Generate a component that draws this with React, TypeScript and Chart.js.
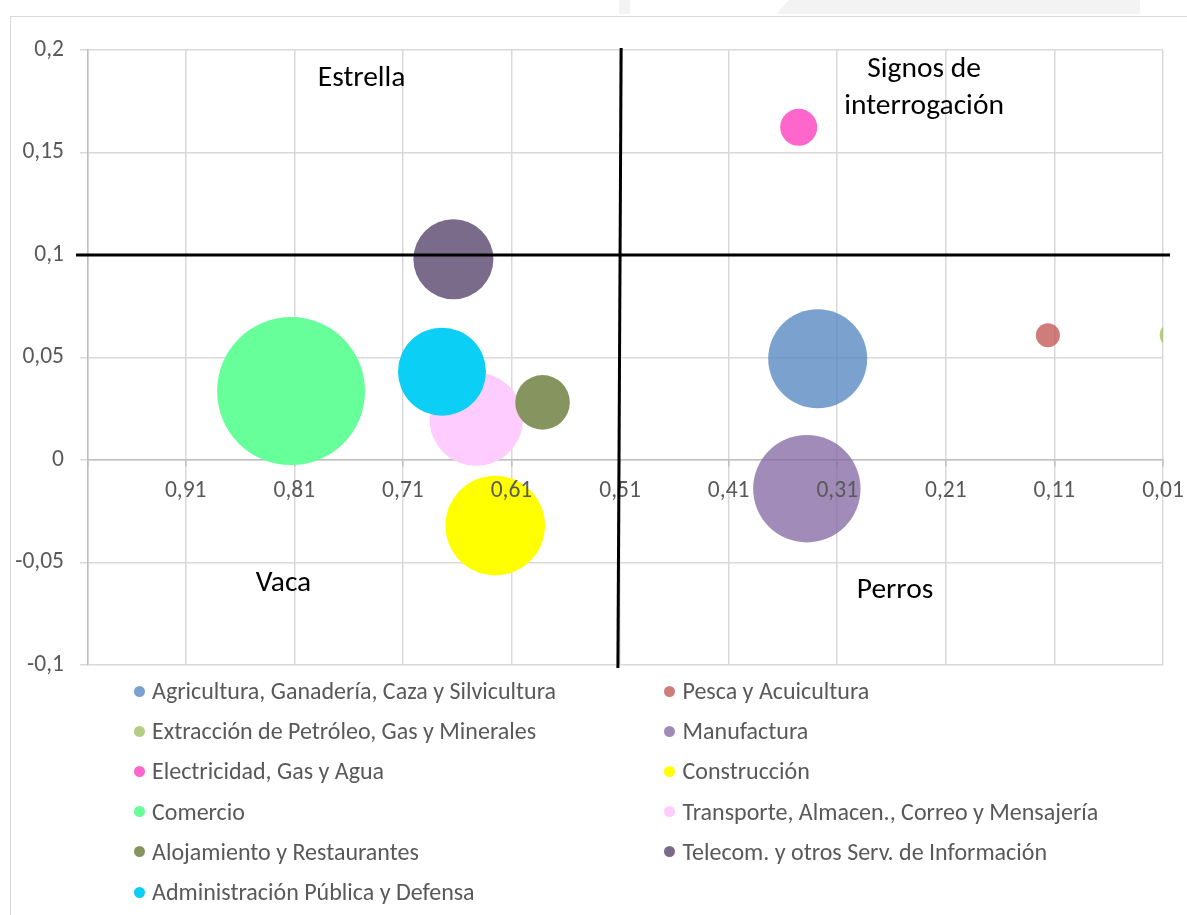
import React, { useEffect, useRef } from 'react';
import { Chart, registerables } from 'chart.js';

Chart.register(...registerables);

// ---------- data ----------
const SECTORS = [
  'Agricultura, Ganadería, Caza y Silvicultura',
  'Pesca y Acuicultura',
  'Extracción de Petróleo, Gas y Minerales',
  'Manufactura',
  'Electricidad, Gas y Agua',
  'Construcción',
  'Comercio',
  'Transporte, Almacen., Correo y Mensajería',
  'Alojamiento y Restaurantes',
  'Telecom. y otros Serv. de Información',
  'Administración Pública y Defensa',
];
const X_VALUES = [0.328, 0.116, 0.002, 0.338, 0.3455, 0.625, 0.813, 0.6425, 0.5814, 0.6635, 0.674];
const Y_VALUES = [0.0494, 0.0608, 0.061, -0.014, 0.1623, -0.032, 0.0336, 0.0199, 0.0281, 0.0979, 0.0431];
const BUBBLE_SIZES = [49.5, 12, 12, 53.7, 18.5, 49.8, 74, 46.6, 27.3, 40, 44];

const X_TICKS = [0.01, 0.11, 0.21, 0.31, 0.41, 0.51, 0.61, 0.71, 0.81, 0.91, 1.0];
const Y_TICKS = [-0.1, -0.05, 0, 0.05, 0.1, 0.15, 0.2];
const X_DIVIDER = 0.51;
const Y_DIVIDER = 0.1;
const QUADRANT_LABELS = ['Estrella', 'Signos de', 'interrogación', 'Vaca', 'Perros'];

// ---------- styles ----------
const COLORS = [
  'rgba(79,129,189,0.75)',
  'rgba(192,80,77,0.75)',
  'rgba(155,187,89,0.75)',
  'rgba(128,100,162,0.75)',
  '#ff66cc',
  '#ffff00',
  '#66ff99',
  '#ffccff',
  '#86955f',
  '#7a6b8a',
  '#0ccff5',
];
const FONT = 'Carlito, Lato, sans-serif';
const GRID = '#d9d9d9';
const AXIS = '#bfbfbf';
const TEXT = '#595959';
const WATERMARK = '#f3f3f3';

const fmt = (v: number) => {
  const r = Math.round(v * 100) / 100;
  return String(r).replace('.', ',');
};

const overlayPlugin = {
  id: 'overlay',
  afterDraw(chart: any) {
    const { ctx, chartArea, scales } = chart;
    const x = scales.x;
    const y = scales.y;
    ctx.save();
    ctx.strokeStyle = '#000';
    ctx.lineWidth = 3;
    const yh = y.getPixelForValue(Y_DIVIDER);
    ctx.beginPath();
    ctx.moveTo(chartArea.left - 12, yh);
    ctx.lineTo(chartArea.right + 7, yh);
    ctx.stroke();
    ctx.beginPath();
    ctx.moveTo(x.getPixelForValue(X_DIVIDER - 0.001), chartArea.top - 2);
    ctx.lineTo(x.getPixelForValue(X_DIVIDER + 0.002), chartArea.bottom + 3);
    ctx.stroke();

    ctx.fillStyle = '#000';
    ctx.font = `29.5px ${FONT}`;
    ctx.textAlign = 'center';
    ctx.textBaseline = 'middle';
    const put = (t: string, vx: number, vy: number) =>
      ctx.fillText(t, x.getPixelForValue(vx), y.getPixelForValue(vy));
    put(QUADRANT_LABELS[0], 0.748, 0.1859);
    put(QUADRANT_LABELS[1], 0.23, 0.1902);
    put(QUADRANT_LABELS[2], 0.23, 0.1722);
    put(QUADRANT_LABELS[3], 0.82, -0.0605);
    put(QUADRANT_LABELS[4], 0.2568, -0.0639);
    ctx.restore();
  },
};

const zeroPadding = (s: any) => {
  s.paddingLeft = 0;
  s.paddingRight = 0;
  s.paddingTop = 0;
  s.paddingBottom = 0;
};

export default function App() {
  const ref = useRef<HTMLCanvasElement | null>(null);

  useEffect(() => {
    if (!ref.current) return;
    const chart = new Chart(ref.current, {
      type: 'bubble',
      data: {
        datasets: SECTORS.map((name, i) => ({
          label: name,
          data: [{ x: X_VALUES[i], y: Y_VALUES[i], r: BUBBLE_SIZES[i] }],
          backgroundColor: COLORS[i],
          borderWidth: 0,
          order: -i,
          clip: 0,
        })),
      },
      options: {
        responsive: false,
        animation: false,
        events: [],
        layout: { autoPadding: false, padding: { left: 10, right: 24, top: 50, bottom: 250 } },
        plugins: { legend: { display: false }, tooltip: { enabled: false } },
        scales: {
          x: {
            type: 'linear',
            reverse: true,
            min: 0.01,
            max: 1.0,
            position: { y: 0 } as any,
            afterBuildTicks: (s: any) => {
              s.ticks = X_TICKS.map((value) => ({ value }));
            },
            afterFit: zeroPadding,
            grid: { color: GRID, lineWidth: 1.5, tickLength: 6, tickColor: AXIS },
            border: { color: AXIS, width: 1.5 },
            ticks: {
              z: 1,
              color: TEXT,
              padding: 11,
              maxRotation: 0,
              autoSkip: false,
              font: { family: FONT, size: 23.5 },
              callback: (v: any) => (Number(v) >= 1 ? '' : Number(v).toFixed(2).replace('.', ',')),
            },
          },
          y: {
            type: 'linear',
            min: -0.1,
            max: 0.2,
            afterBuildTicks: (s: any) => {
              s.ticks = Y_TICKS.map((value) => ({ value }));
            },
            afterFit: (s: any) => {
              s.width = 78;
              zeroPadding(s);
            },
            grid: { color: GRID, lineWidth: 1.5, tickLength: 8 },
            border: { color: AXIS, width: 1.5 },
            ticks: {
              color: TEXT,
              padding: 16,
              font: { family: FONT, size: 23.5 },
              callback: (v: any) => fmt(Number(v)),
            },
          },
        },
      },
      plugins: [overlayPlugin],
    });
    return () => chart.destroy();
  }, []);

  return (
    <div
      style={{
        position: 'absolute',
        left: 0,
        top: 0,
        width: 1187,
        height: 915,
        background: '#fff',
        overflow: 'hidden',
        fontFamily: FONT,
      }}
    >
      {/* faint page watermark band above the chart frame */}
      <div style={{ position: 'absolute', left: 619, top: 0, width: 11, height: 14, background: WATERMARK }} />
      <div
        style={{
          position: 'absolute',
          left: 776,
          top: 0,
          width: 364,
          height: 14,
          background: WATERMARK,
          clipPath: 'polygon(13px 0, 100% 0, 100% 100%, 0 100%)',
        }}
      />
      <div
        style={{
          position: 'absolute',
          left: 10,
          top: 16,
          width: 1200,
          height: 1000,
          borderTop: '1.5px solid #d9d9d9',
          borderLeft: '1.5px solid #d9d9d9',
        }}
      />
      <canvas
        ref={ref}
        width={1187}
        height={915}
        style={{ position: 'absolute', left: 0, top: 0, width: 1187, height: 915 }}
      />
      {SECTORS.map((name, i) => {
        const col = i % 2;
        const row = Math.floor(i / 2);
        const cy = 691 + row * 40.2;
        return (
          <div
            key={name}
            style={{
              position: 'absolute',
              left: col === 0 ? 133.5 : 664,
              top: cy - 15,
              height: 30,
              display: 'flex',
              alignItems: 'center',
              whiteSpace: 'nowrap',
              color: TEXT,
              fontSize: 24,
              lineHeight: '30px',
            }}
          >
            <span
              style={{
                display: 'inline-block',
                width: 11,
                height: 11,
                borderRadius: '50%',
                background: COLORS[i],
                marginRight: 7.5,
                flex: 'none',
              }}
            />
            <span>{name}</span>
          </div>
        );
      })}
    </div>
  );
}
